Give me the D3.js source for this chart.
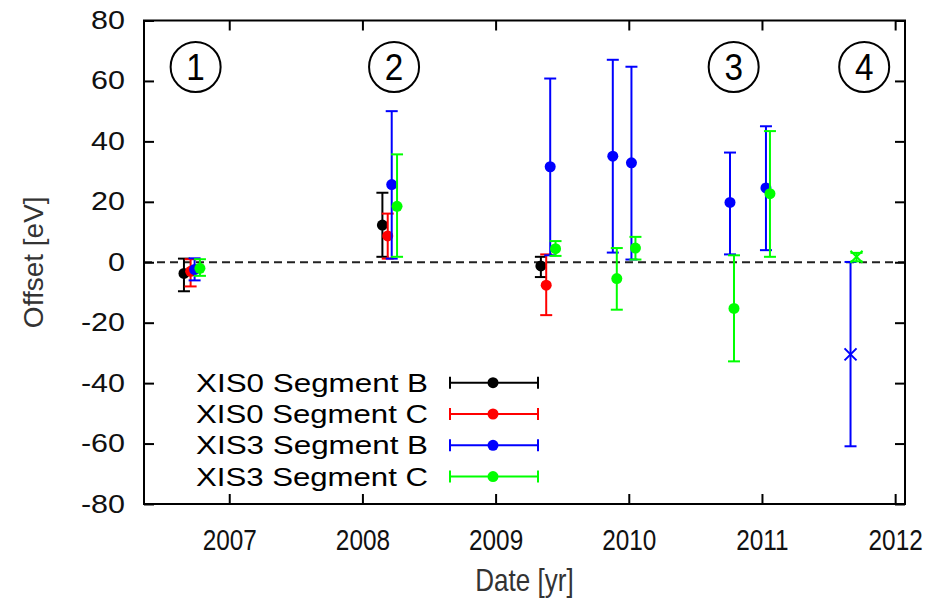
<!DOCTYPE html>
<html>
<head>
<meta charset="utf-8">
<script src="https://cdn.jsdelivr.net/npm/d3@7"></script>
<style>
  body { margin: 0; background: #fff; }
  text { font-family: "Liberation Sans", Arial, sans-serif; }
</style>
</head>
<body>
<svg id="chart" width="948" height="599"></svg>
<script>
// series: date [yr], offset [eV], error bar low/high [eV]
var xis0bDate = [2006.66, 2008.15, 2009.34];
var xis0bVal  = [-3.7, 12.3, -1.2];
var xis0bLo   = [-9.6, 1.8, -4.9];
var xis0bHi   = [1.2, 23.0, 1.8];

var xis0cDate = [2006.71, 2008.19, 2009.38];
var xis0cVal  = [-3.0, 8.7, -7.6];
var xis0cLo   = [-8.0, 1.2, -17.5];
var xis0cHi   = [1.0, 16.1, 2.6];

var xis3bDate = [2006.74, 2008.22, 2009.41, 2009.88, 2010.02, 2010.76, 2011.03, 2011.665];
var xis3bVal  = [-2.4, 25.7, 31.6, 35.1, 32.9, 19.8, 24.6, -30.5];
var xis3bLo   = [-6.0, 1.2, 2.3, 3.2, 0.9, 2.6, 4.0, -60.9];
var xis3bHi   = [1.3, 50.0, 60.8, 67.0, 64.7, 36.3, 45.0, 0.1];
var xis3bMark = ["o", "o", "o", "o", "o", "o", "o", "x"];

var xis3cDate = [2006.78, 2008.26, 2009.45, 2009.91, 2010.05, 2010.79, 2011.06, 2011.71];
var xis3cVal  = [-2.0, 18.5, 4.5, -5.4, 4.7, -15.3, 22.7, 1.8];
var xis3cLo   = [-4.5, 1.8, 2.1, -15.7, 0.9, -32.8, 1.8, 0.3];
var xis3cHi   = [1.0, 35.7, 7.0, 4.7, 8.4, 2.3, 43.4, 3.1];
var xis3cMark = ["o", "o", "o", "o", "o", "o", "o", "x"];

var seriesNames = ["XIS0 Segment B", "XIS0 Segment C", "XIS3 Segment B", "XIS3 Segment C"];
var seriesColors = ["#000000", "#ff0000", "#0000ff", "#00ff00"];

var xTicks = [2007, 2008, 2009, 2010, 2011, 2012];
var yTicks = [-80, -60, -40, -20, 0, 20, 40, 60, 80];

// observation periods
var periodLabels = ["1", "2", "3", "4"];
var periodDates = [2006.65, 2008.14, 2010.69, 2011.67];

function build(date, val, lo, hi, mark) {
  return date.map(function(d, i) {
    return { date: d, val: val[i], lo: lo[i], hi: hi[i], mark: mark ? mark[i] : "o" };
  });
}
var series = [
  build(xis0bDate, xis0bVal, xis0bLo, xis0bHi),
  build(xis0cDate, xis0cVal, xis0cLo, xis0cHi),
  build(xis3bDate, xis3bVal, xis3bLo, xis3bHi, xis3bMark),
  build(xis3cDate, xis3cVal, xis3cLo, xis3cHi, xis3cMark)
];

var svg = d3.select("#chart");
var pLeft = 144, pRight = 905, pTop = 20.5, pBottom = 504;

var x = d3.scaleLinear().domain([2006.36, 2012.074]).range([pLeft, pRight]);
var y = d3.scaleLinear().domain([-80, 80]).range([pBottom, pTop]);

// zero line
svg.append("line")
  .attr("x1", pLeft).attr("x2", pRight)
  .attr("y1", y(0)).attr("y2", y(0))
  .attr("stroke", "#222").attr("stroke-width", 2)
  .attr("stroke-dasharray", "8,5");

// axes with inward ticks on all sides
var gx = svg.append("g").attr("transform", "translate(0," + pBottom + ")")
  .call(d3.axisBottom(x).tickValues(xTicks).tickSize(-10).tickFormat(function(d) { return String(d); }));
gx.selectAll("text")
  .attr("y", 0).attr("dy", null)
  .attr("transform", "translate(0,46) scale(0.84,1)")
  .style("font-size", "29px");
var gxt = svg.append("g").attr("transform", "translate(0," + pTop + ")")
  .call(d3.axisTop(x).tickValues(xTicks).tickSize(-10).tickFormat(""));

var gy = svg.append("g").attr("transform", "translate(" + pLeft + ",0)")
  .call(d3.axisLeft(y).tickValues(yTicks).tickSize(-10).tickFormat(function(d) { return String(d); }));
gy.selectAll("text")
  .attr("x", 0)
  .attr("transform", "translate(-19,0) scale(1.22,1)")
  .style("font-size", "25px");
var gyr = svg.append("g").attr("transform", "translate(" + pRight + ",0)")
  .call(d3.axisRight(y).tickValues(yTicks).tickSize(-10).tickFormat(""));

[gx, gxt, gy, gyr].forEach(function(g) {
  g.select(".domain").remove();
  g.selectAll(".tick line").attr("stroke", "#000").attr("stroke-width", 2);
  g.selectAll("text").attr("fill", "#111");
});

svg.append("rect")
  .attr("x", pLeft).attr("y", pTop)
  .attr("width", pRight - pLeft).attr("height", pBottom - pTop)
  .attr("fill", "none").attr("stroke", "#000").attr("stroke-width", 2);

// axis titles
svg.append("text")
  .attr("transform", "translate(43," + y(0) + ") rotate(-90)")
  .attr("text-anchor", "middle")
  .attr("fill", "#333")
  .style("font-size", "28px")
  .text("Offset [eV]");
svg.append("text")
  .attr("transform", "translate(" + ((pLeft + pRight) / 2) + ",591) scale(0.84,1)")
  .attr("text-anchor", "middle")
  .attr("fill", "#333")
  .style("font-size", "31px")
  .text("Date [yr]");

// error bars and points
var cap = 6;
series.forEach(function(s, si) {
  var col = seriesColors[si];
  var g = svg.append("g").attr("class", "series-" + si);
  var bar = g.selectAll("g.bar").data(s).enter().append("g").attr("class", "bar");
  bar.append("line")
    .attr("x1", function(d) { return x(d.date); })
    .attr("x2", function(d) { return x(d.date); })
    .attr("y1", function(d) { return y(d.lo); })
    .attr("y2", function(d) { return y(d.hi); })
    .attr("stroke", col).attr("stroke-width", 2);
  ["lo", "hi"].forEach(function(k) {
    bar.append("line")
      .attr("x1", function(d) { return x(d.date) - cap; })
      .attr("x2", function(d) { return x(d.date) + cap; })
      .attr("y1", function(d) { return y(d[k]); })
      .attr("y2", function(d) { return y(d[k]); })
      .attr("stroke", col).attr("stroke-width", 2);
  });
  bar.filter(function(d) { return d.mark === "o"; })
    .append("circle")
    .attr("cx", function(d) { return x(d.date); })
    .attr("cy", function(d) { return y(d.val); })
    .attr("r", 5.5)
    .attr("fill", col);
  bar.filter(function(d) { return d.mark === "x"; })
    .append("path")
    .attr("d", function(d) {
      var cx = x(d.date), cy = y(d.val), r = 6;
      return "M" + (cx - r) + "," + (cy - r) + "L" + (cx + r) + "," + (cy + r) +
             "M" + (cx - r) + "," + (cy + r) + "L" + (cx + r) + "," + (cy - r);
    })
    .attr("stroke", col).attr("stroke-width", 2).attr("fill", "none");
});

// circled period numbers
var per = svg.append("g").selectAll("g").data(periodLabels).enter().append("g")
  .attr("transform", function(d, i) { return "translate(" + (x(periodDates[i]) + 13) + ",67)"; });
per.append("circle").attr("r", 25).attr("fill", "none").attr("stroke", "#000").attr("stroke-width", 2);
per.append("text")
  .attr("text-anchor", "middle").attr("dy", "0.36em")
  .attr("transform", "scale(0.9,1)")
  .style("font-size", "37px")
  .text(function(d) { return d; });

// legend
var leg = svg.append("g").selectAll("g").data(seriesNames).enter().append("g")
  .attr("transform", function(d, i) { return "translate(0," + (382.7 + i * 31.3) + ")"; });
leg.append("text")
  .attr("x", 428).attr("dy", "0.36em")
  .attr("text-anchor", "end")
  .attr("textLength", 232).attr("lengthAdjust", "spacingAndGlyphs")
  .style("font-size", "25px")
  .text(function(d) { return d; });
leg.append("line").attr("x1", 450).attr("x2", 538)
  .attr("stroke", function(d, i) { return seriesColors[i]; }).attr("stroke-width", 2);
[450, 538].forEach(function(px) {
  leg.append("line").attr("x1", px).attr("x2", px).attr("y1", -6).attr("y2", 6)
    .attr("stroke", function(d, i) { return seriesColors[i]; }).attr("stroke-width", 2);
});
leg.append("circle").attr("cx", 493).attr("r", 5.5)
  .attr("fill", function(d, i) { return seriesColors[i]; });
</script>
</body>
</html>
